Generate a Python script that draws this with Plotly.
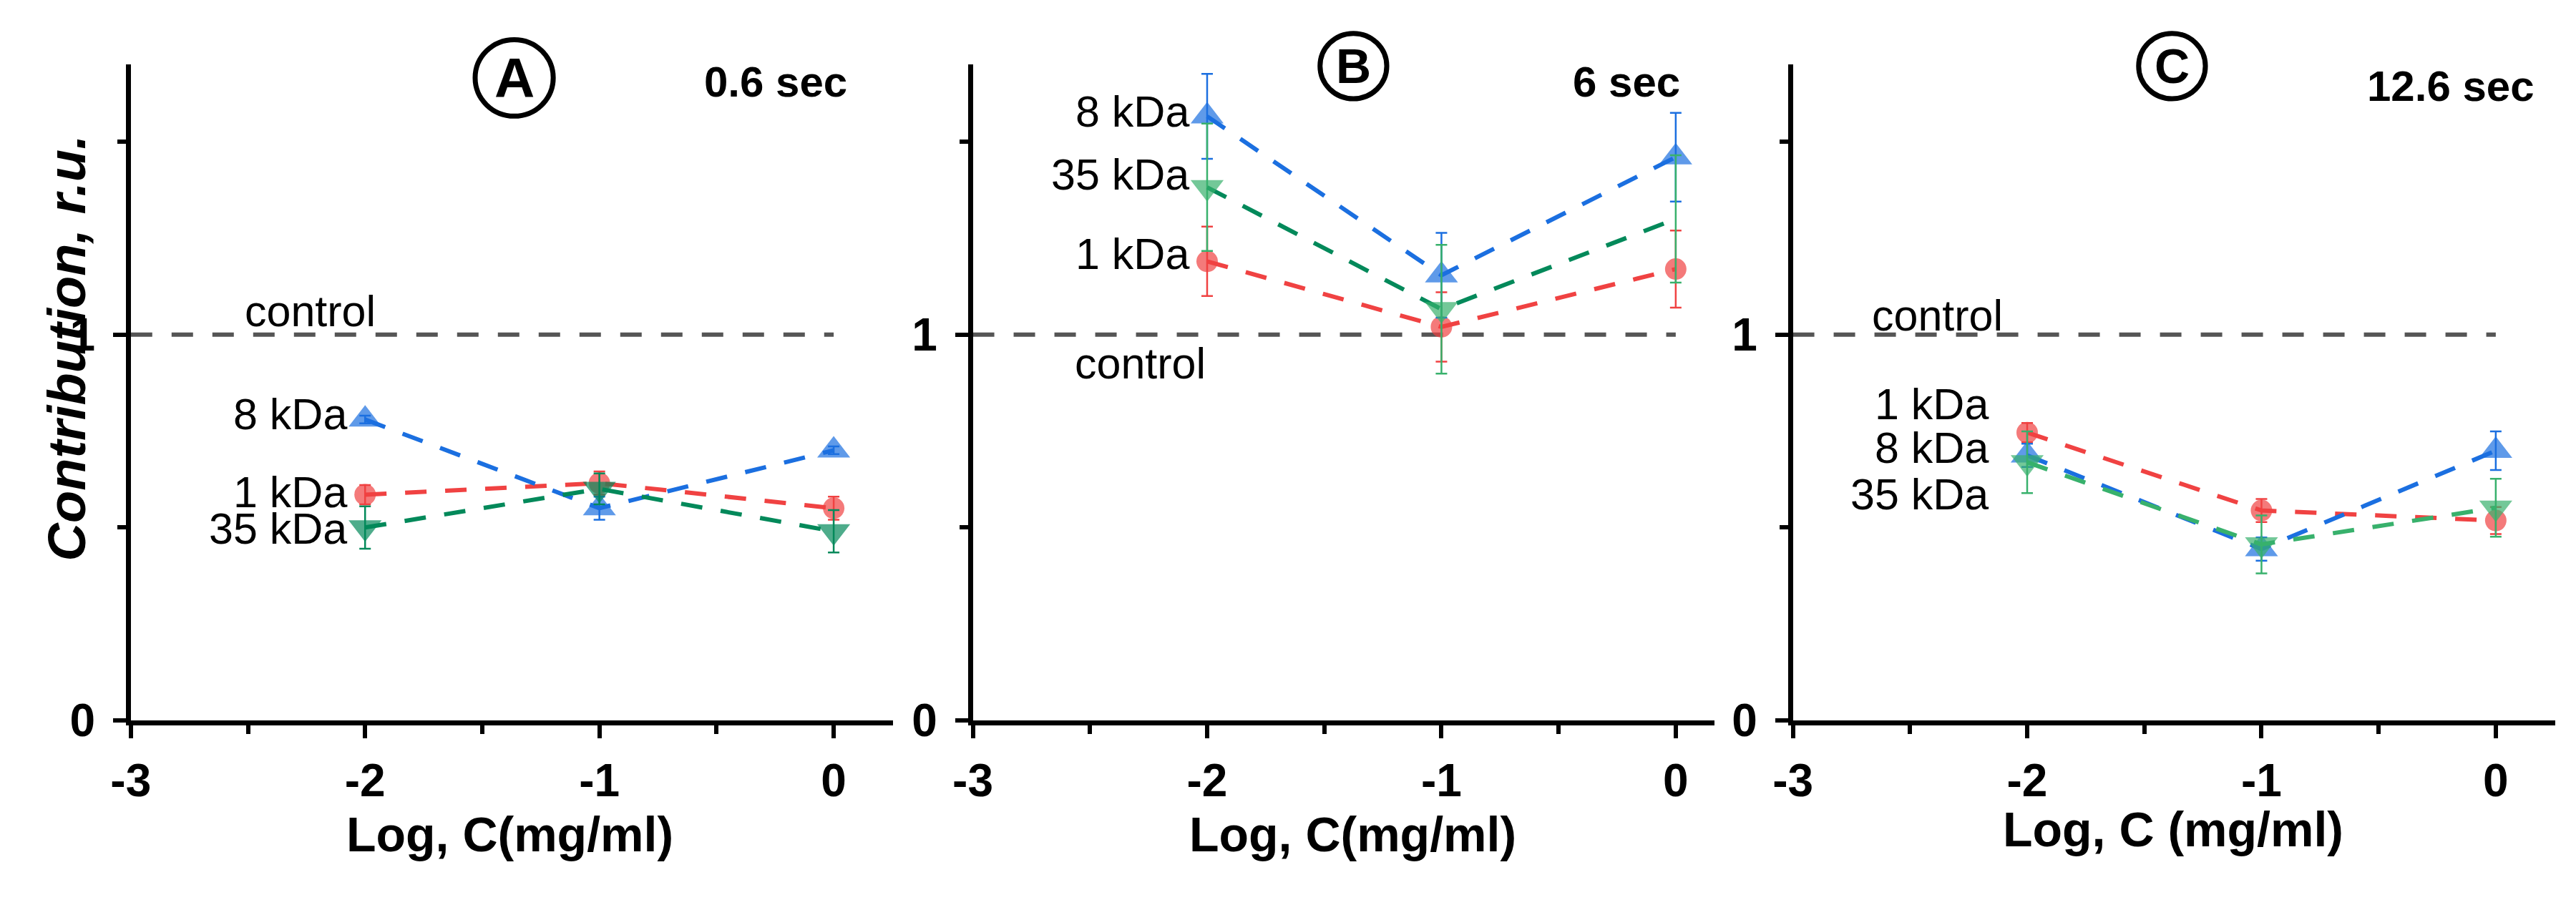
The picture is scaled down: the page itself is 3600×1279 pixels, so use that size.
import plotly.graph_objects as go

# Data (Log C in mg/ml vs contribution, r.u.)
log_c = [-2, -1, 0]
control_x = [-3, 0]
control_y = [1, 1]

# Panel A: 0.6 sec
a_1kda = [0.585, 0.615, 0.55]
a_1kda_err = [0.025, 0.03, 0.03]
a_8kda = [0.78, 0.55, 0.70]
a_8kda_err = [0.01, 0.03, 0.01]
a_35kda = [0.50, 0.60, 0.49]
a_35kda_err = [0.055, 0.04, 0.055]

# Panel B: 6 sec
b_1kda = [1.19, 1.02, 1.17]
b_1kda_err = [0.09, 0.09, 0.10]
b_8kda = [1.566, 1.154, 1.46]
b_8kda_err = [0.11, 0.11, 0.115]
b_35kda = [1.382, 1.066, 1.30]
b_35kda_err = [0.165, 0.167, 0.165]

# Panel C: 12.6 sec
c_1kda = [0.746, 0.544, 0.518]
c_1kda_err = [0.025, 0.03, 0.035]
c_8kda = [0.687, 0.444, 0.699]
c_8kda_err = [0.03, 0.03, 0.05]
c_35kda = [0.669, 0.456, 0.551]
c_35kda_err = [0.08, 0.075, 0.075]

panel_letters = ["A", "B", "C"]
panel_times = ["0.6 sec", "6 sec", "12.6 sec"]
x_titles = ["Log, C(mg/ml)", "Log, C(mg/ml)", "Log, C (mg/ml)"]
series_names = ["1 kDa", "8 kDa", "35 kDa"]
x_tick_vals = [-3, -2, -1, 0]
x_tick_text = ["-3", "-2", "-1", "0"]
y_tick_vals = [0, 1]
y_tick_text = ["0", "1"]

W, H = 3600, 1279
FONT = "Liberation Sans"
RED = "#f04242"
BLUE = "#1b6fe0"
GREEN_DARK = "#03895a"
GREEN_LIGHT = "#38b16c"
GREY = "#555555"

# green shades differ per panel: (line, marker, error bar)
green_style = [
    (GREEN_DARK, GREEN_DARK, GREEN_DARK),
    (GREEN_DARK, GREEN_LIGHT, GREEN_LIGHT),
    (GREEN_LIGHT, GREEN_LIGHT, GREEN_LIGHT),
]

# pixel layout of the three panels (left, right of x axis), y axis from 1036 (0) to 93 (top)
panel_px = [(156, 1230), (1342, 2387), (2497, 3571)]
y_bot_px, y_top_px = 1036, 93
y_max = 1.70
unit_px = 330
x_max = [(r - l) / unit_px - 3 for l, r in panel_px]

series = [
    [(a_1kda, a_1kda_err), (a_8kda, a_8kda_err), (a_35kda, a_35kda_err)],
    [(b_1kda, b_1kda_err), (b_8kda, b_8kda_err), (b_35kda, b_35kda_err)],
    [(c_1kda, c_1kda_err), (c_8kda, c_8kda_err), (c_35kda, c_35kda_err)],
]
symbols = ["circle", "triangle-up", "triangle-down"]
msize = [30, 40, 40]

# label placement (x of right edge, y centres) per panel, order 1/8/35 kDa
label_x = [-2.07, -2.07, -2.16]
label_y = [[0.591, 0.794, 0.497], [1.21, 1.578, 1.415], [0.819, 0.706, 0.585]]
control_lbl = [(-2.52, 1.06), (-2.57, 0.925), (-2.67, 1.05)]

fig = go.Figure()

for p in range(3):
    xa = "x" if p == 0 else f"x{p + 1}"
    ya = "y" if p == 0 else f"y{p + 1}"

    fig.add_trace(go.Scatter(
        x=control_x, y=control_y, mode="lines",
        line=dict(color=GREY, width=6, dash="30px,27px"),
        xaxis=xa, yaxis=ya, showlegend=False, hoverinfo="skip",
    ))

    colours = [(RED, RED, RED), (BLUE, BLUE, BLUE), green_style[p]]
    for s, (vals, errs) in enumerate(series[p]):
        line_c, mark_c, err_c = colours[s]
        sizes = [msize[s]] * len(vals)
        if p == 1 and s == 2:
            sizes[-1] = 0  # marker hidden in the original at log C = 0
        fig.add_trace(go.Scatter(
            x=log_c, y=vals, mode="lines+markers",
            line=dict(color=line_c, width=6, dash="30px,26px"),
            marker=dict(symbol=symbols[s], size=sizes, color=mark_c, line=dict(width=0)),
            error_y=dict(type="data", array=errs, color=err_c, thickness=2.5, width=8),
            xaxis=xa, yaxis=ya, name=series_names[s], showlegend=False,
        ))

    for s, name in enumerate(series_names):
        fig.add_annotation(
            x=label_x[p], y=label_y[p][s], xref=xa, yref=ya,
            text=name, showarrow=False, xanchor="right", yanchor="middle",
            font=dict(family=FONT, size=61, color="black"),
        )

    fig.add_annotation(
        x=control_lbl[p][0], y=control_lbl[p][1], xref=xa, yref=ya,
        text="control", showarrow=False, xanchor="left", yanchor="middle",
        font=dict(family=FONT, size=61, color="black"),
    )

    l, r = panel_px[p]
    axis_common = dict(
        showline=True, linecolor="black", linewidth=7, mirror=False,
        showgrid=False, zeroline=False,
        ticks="outside", ticklen=18, tickwidth=6, tickcolor="black",
        tickfont=dict(family=FONT, size=64, color="black", weight="bold"),
    )
    minor = dict(dtick=0.5, tick0=0, ticks="outside", ticklen=12, tickwidth=6, tickcolor="black")
    fig.layout[f"xaxis{'' if p == 0 else p + 1}"] = dict(
        domain=[l / W, r / W], anchor=ya, range=[-3, x_max[p]],
        tickvals=x_tick_vals, ticktext=x_tick_text, ticklabelstandoff=4,
        minor=minor, **axis_common,
    )
    fig.layout[f"yaxis{'' if p == 0 else p + 1}"] = dict(
        domain=[1 - y_bot_px / H, 1 - y_top_px / H], anchor=xa, range=[0, y_max],
        tickvals=y_tick_vals, ticktext=y_tick_text, ticklabelstandoff=12,
        minor=minor, **axis_common,
    )

# circled panel letters, time stamps, x titles (pixel positions)
circles = [(696, 112, 55), (1878, 95, 47), (3031, 95, 47)]
letter_size = [78, 68, 68]
time_pos = [(1167, 118), (2340, 118), (3544, 124)]
xtitle_pos = [(690, 1200), (1877, 1200), (3033, 1193)]

for p in range(3):
    cx, cy, rad = circles[p]
    fig.add_shape(
        type="circle", xref="paper", yref="paper",
        x0=(cx - rad) / W, x1=(cx + rad) / W,
        y0=1 - (cy + rad) / H, y1=1 - (cy - rad) / H,
        line=dict(color="black", width=7),
    )
    fig.add_annotation(
        x=cx / W, y=1 - cy / H, xref="paper", yref="paper",
        text=f"<b>{panel_letters[p]}</b>", showarrow=False,
        xanchor="center", yanchor="middle",
        font=dict(family=FONT, size=letter_size[p], color="black"),
    )
    tx, ty = time_pos[p]
    fig.add_annotation(
        x=tx / W, y=1 - ty / H, xref="paper", yref="paper",
        text=f"<b>{panel_times[p]}</b>", showarrow=False,
        xanchor="right", yanchor="middle",
        font=dict(family=FONT, size=60, color="black"),
    )
    gx, gy = xtitle_pos[p]
    fig.add_annotation(
        x=gx / W, y=1 - gy / H, xref="paper", yref="paper",
        text=f"<b>{x_titles[p]}</b>", showarrow=False,
        xanchor="center", yanchor="middle",
        font=dict(family=FONT, size=68, color="black"),
    )

fig.add_annotation(
    x=66 / W, y=1 - 500 / H, xref="paper", yref="paper",
    text="<b><i>Contribution, r.u.</i></b>", showarrow=False, textangle=-90,
    xanchor="center", yanchor="middle",
    font=dict(family=FONT, size=74, color="black"),
)

fig.update_layout(
    width=W, height=H, autosize=False,
    margin=dict(l=0, r=0, t=0, b=0),
    paper_bgcolor="white", plot_bgcolor="white",
    showlegend=False,
)

fig.write_html(
    "out.html",
    config={"displayModeBar": False},
    post_script="document.body.style.margin='0';document.body.style.overflow='hidden';",
)
